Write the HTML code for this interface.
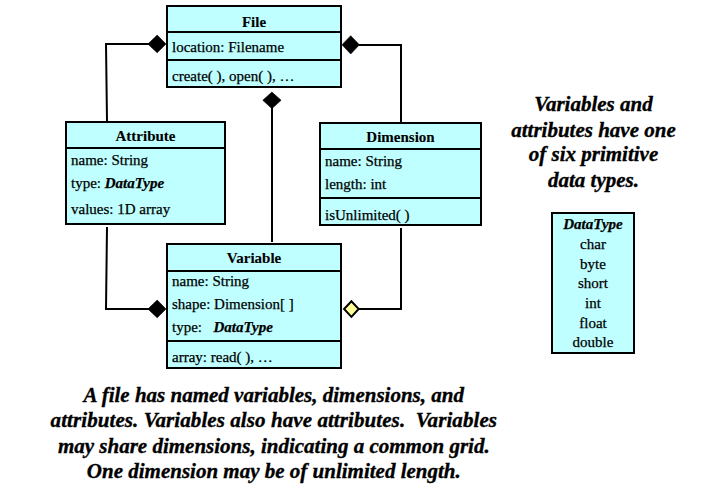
<!DOCTYPE html>
<html><head><meta charset="utf-8">
<style>
html,body{margin:0;padding:0;background:#fff;width:720px;height:496px;overflow:hidden}
svg{display:block}
text{font-family:"Liberation Serif",serif;font-size:15px;fill:#000;stroke:#000;stroke-width:0.25px}
.b{font-weight:bold;stroke-width:0.1px}
.bi{font-weight:bold;font-style:italic}
.cap{font-size:21px;font-weight:bold;font-style:italic;stroke-width:0.35px}
</style></head>
<body>
<svg width="720" height="496" viewBox="0 0 720 496">
<g fill="#bfffff" stroke="#000" stroke-width="2">
<rect x="167" y="6" width="174" height="81"/>
<rect x="66" y="122" width="159" height="102"/>
<rect x="320" y="123" width="161" height="102"/>
<rect x="167" y="244" width="174" height="124"/>
<rect x="552" y="213" width="82" height="140"/>
</g>
<g stroke="#000" stroke-width="2" fill="none">
<line x1="167" y1="32" x2="341" y2="32"/>
<line x1="167" y1="60" x2="341" y2="60"/>
<line x1="66" y1="148" x2="225" y2="148"/>
<line x1="320" y1="149" x2="481" y2="149"/>
<line x1="320" y1="198" x2="481" y2="198"/>
<line x1="167" y1="271" x2="341" y2="271"/>
<line x1="167" y1="341" x2="341" y2="341"/>
<!-- connectors -->
<polyline points="149,44 106,44 107,121"/>
<polyline points="359,45 401,45 401,122"/>
<line x1="272" y1="107" x2="272" y2="242"/>
<polyline points="107,227 106,309 149,309"/>
<polyline points="401,228 401,309 359,309"/>
</g>
<g fill="#000" stroke="#000" stroke-width="0.6" stroke-linejoin="round">
<polygon points="147.9,44 157.2,35.1 166,44 157.2,52.8"/>
<polygon points="342,44.8 350.7,35.7 359.4,44.8 350.7,54"/>
<polygon points="262.8,100.3 271.9,92.1 281.1,100.3 271.9,108.6"/>
<polygon points="147.9,309 157.2,300.1 166,309 157.2,317.8"/>
</g>
<polygon points="344.1,309 351.4,301.3 358.7,309 351.4,316.9" fill="#ffff99" stroke="#000" stroke-width="2" stroke-linejoin="miter"/>

<text class="b" x="254" y="27" text-anchor="middle">File</text>
<text x="172" y="52">location: Filename</text>
<text x="172" y="81">create( ), open( ), …</text>

<text class="b" x="145.5" y="141" text-anchor="middle">Attribute</text>
<text x="71" y="165">name: String</text>
<text x="71" y="188">type: <tspan class="bi">DataType</tspan></text>
<text x="71" y="213.5">values: 1D array</text>

<text class="b" x="400.5" y="142" text-anchor="middle">Dimension</text>
<text x="325" y="166">name: String</text>
<text x="325" y="189">length: int</text>
<text x="325" y="220">isUnlimited( )</text>

<text class="b" x="254" y="262.5" text-anchor="middle">Variable</text>
<text x="172" y="285.7">name: String</text>
<text x="172" y="308.8">shape: Dimension[ ]</text>
<text x="172" y="332.1">type:</text>
<text class="bi" x="213.4" y="332.1">DataType</text>
<text x="172" y="361.9">array: read( ), …</text>

<g text-anchor="middle">
<text class="bi" x="593" y="229">DataType</text>
<text x="593" y="249">char</text>
<text x="593" y="269">byte</text>
<text x="593" y="288">short</text>
<text x="593" y="308">int</text>
<text x="593" y="328">float</text>
<text x="593" y="347">double</text>
</g>

<g text-anchor="middle" class="cap">
<text class="cap" x="593.5" y="111">Variables and</text>
<text class="cap" x="593.5" y="137">attributes have one</text>
<text class="cap" x="593.5" y="161">of six primitive</text>
<text class="cap" x="593.5" y="187">data types.</text>
<text class="cap" x="273.8" y="402">A file has named variables, dimensions, and</text>
<text class="cap" x="273.8" y="427" textLength="446.4" lengthAdjust="spacing" xml:space="preserve">attributes. Variables also have attributes.  Variables</text>
<text class="cap" x="273.8" y="453">may share dimensions, indicating a common grid.</text>
<text class="cap" x="273.8" y="478">One dimension may be of unlimited length.</text>
</g>
</svg>
</body></html>
